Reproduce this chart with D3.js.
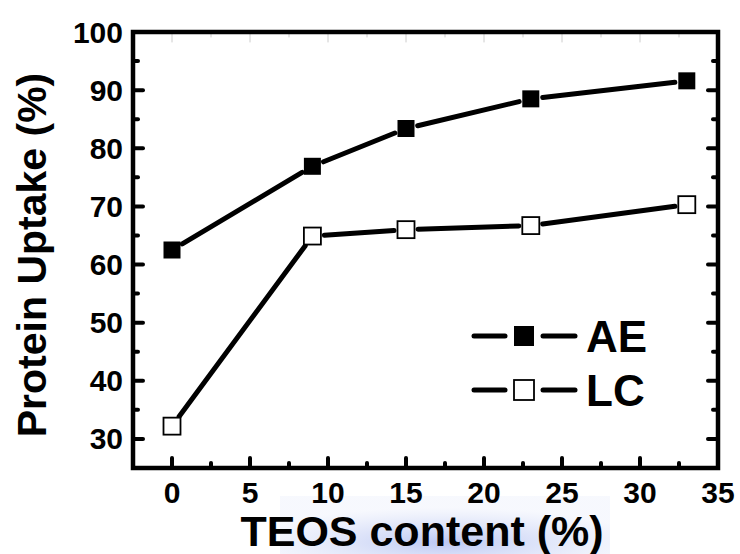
<!DOCTYPE html>
<html>
<head>
<meta charset="utf-8">
<script src="https://cdn.jsdelivr.net/npm/d3@7"></script>
<style>
  body { margin: 0; background: #fff; }
  svg { display: block; font-family: "Liberation Sans", Arial, sans-serif; font-weight: bold; }
</style>
</head>
<body>
<svg id="chart"></svg>
<script>
const teos = [0, 9, 15, 23, 33];
const ae = [62.5, 76.9, 83.4, 88.5, 91.6];
const lc = [32.2, 64.9, 66.0, 66.7, 70.3];
const xTicks = [0, 5, 10, 15, 20, 25, 30, 35];
const yTicks = [30, 40, 50, 60, 70, 80, 90, 100];

const w = 740, h = 554;
const m = { left: 133, right: 22, top: 32, bottom: 86 };

const svg = d3.select('#chart')
  .attr('width', w)
  .attr('height', h);

const x = d3.scaleLinear().domain([-2.5, 35]).range([m.left, w - m.right]);
const y = d3.scaleLinear().domain([25, 100]).range([h - m.bottom, m.top]);

// faint blue scan smudge behind the x title
const grad = svg.append('defs').append('radialGradient')
  .attr('id', 'smudge').attr('cx', '50%').attr('cy', '80%').attr('r', '60%');
grad.append('stop').attr('offset', '0%').attr('stop-color', '#9fb0ee').attr('stop-opacity', 0.7);
grad.append('stop').attr('offset', '100%').attr('stop-color', '#c9d3f5').attr('stop-opacity', 0.15);
svg.append('rect')
  .attr('x', 280).attr('y', 496).attr('width', 330).attr('height', 58)
  .attr('fill', 'url(#smudge)');

// ticks, inward
const minorX = d3.range(-2.5, 35.01, 2.5).filter(v => v > -2.5 && v < 35);
const minorY = d3.range(25, 100.01, 5).filter(v => v > 25 && v < 100);

const ticks = svg.append('g')
  .attr('stroke', '#000')
  .attr('stroke-width', 4)
  .attr('stroke-linecap', 'round');

minorX.forEach(v => {
  const len = v % 5 === 0 ? 10 : 5;
  ticks.append('line').attr('x1', x(v)).attr('x2', x(v))
    .attr('y1', y(25)).attr('y2', y(25) - len);
  ticks.append('line').attr('x1', x(v)).attr('x2', x(v))
    .attr('y1', y(100)).attr('y2', y(100) + len)
    .attr('stroke-width', 1).attr('stroke', '#ccc');
});
minorY.forEach(v => {
  const len = v % 10 === 0 ? 10 : 5;
  ticks.append('line').attr('y1', y(v)).attr('y2', y(v))
    .attr('x1', x(-2.5)).attr('x2', x(-2.5) + len);
  ticks.append('line').attr('y1', y(v)).attr('y2', y(v))
    .attr('x1', x(35)).attr('x2', x(35) - len);
});

// frame
svg.append('rect')
  .attr('x', x(-2.5)).attr('y', y(100))
  .attr('width', x(35) - x(-2.5)).attr('height', y(25) - y(100))
  .attr('fill', 'none').attr('stroke', '#000').attr('stroke-width', 4.5);

// tick labels
svg.append('g').selectAll('text')
  .data(xTicks)
  .join('text')
    .attr('x', d => x(d))
    .attr('y', y(25) + 35)
    .attr('text-anchor', 'middle')
    .attr('font-size', 30)
    .text(d => d);

svg.append('g').selectAll('text')
  .data(yTicks)
  .join('text')
    .attr('x', x(-2.5) - 10)
    .attr('y', d => y(d) + 10.5)
    .attr('text-anchor', 'end')
    .attr('font-size', 30)
    .text(d => d);

// axis titles
svg.append('text')
  .attr('x', 422)
  .attr('y', 546)
  .attr('text-anchor', 'middle')
  .attr('font-size', 43)
  .text('TEOS content (%)');

svg.append('text')
  .attr('transform', `translate(46, ${(y(25) + y(100)) / 2 + 5}) rotate(-90)`)
  .attr('text-anchor', 'middle')
  .attr('font-size', 41)
  .text('Protein Uptake (%)');

// series lines with gaps at markers
const gap = 12;
function drawSeries(vals, filled) {
  const pts = teos.map((t, i) => [x(t), y(vals[i])]);
  const g = svg.append('g');
  for (let i = 0; i < pts.length - 1; i++) {
    const [x1, y1] = pts[i], [x2, y2] = pts[i + 1];
    const len = Math.hypot(x2 - x1, y2 - y1);
    const ux = (x2 - x1) / len, uy = (y2 - y1) / len;
    g.append('line')
      .attr('x1', x1 + ux * gap).attr('y1', y1 + uy * gap)
      .attr('x2', x2 - ux * gap).attr('y2', y2 - uy * gap)
      .attr('stroke', '#000').attr('stroke-width', 5)
      .attr('stroke-linecap', 'round');
  }
  const s = 17;
  g.selectAll('rect')
    .data(pts)
    .join('rect')
      .attr('x', d => d[0] - s / 2)
      .attr('y', d => d[1] - s / 2)
      .attr('width', s).attr('height', s)
      .attr('fill', filled ? '#000' : '#fff')
      .attr('stroke', '#000')
      .attr('stroke-width', filled ? 0 : 1.8);
}
drawSeries(ae, true);
drawSeries(lc, false);

// legend
const legend = [
  { name: 'AE', filled: true, cy: 336 },
  { name: 'LC', filled: false, cy: 390 }
];
legend.forEach(l => {
  const g = svg.append('g');
  g.append('line').attr('x1', 474).attr('x2', 505).attr('y1', l.cy).attr('y2', l.cy)
    .attr('stroke', '#000').attr('stroke-width', 5).attr('stroke-linecap', 'round');
  g.append('line').attr('x1', 543).attr('x2', 575).attr('y1', l.cy).attr('y2', l.cy)
    .attr('stroke', '#000').attr('stroke-width', 5).attr('stroke-linecap', 'round');
  g.append('rect').attr('x', 514).attr('y', l.cy - 10).attr('width', 20).attr('height', 20)
    .attr('fill', l.filled ? '#000' : '#fff').attr('stroke', '#000')
    .attr('stroke-width', l.filled ? 0 : 1.8);
  g.append('text').attr('x', 586).attr('y', l.cy + 16)
    .attr('font-size', 44).text(l.name);
});
</script>
</body>
</html>
